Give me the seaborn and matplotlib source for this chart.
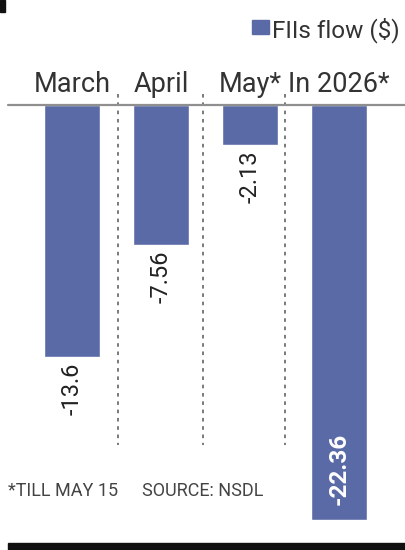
import matplotlib
matplotlib.use('Agg')
import matplotlib.pyplot as plt
import seaborn as sns
import pandas as pd

# data
periods = ['March', 'April', 'May*', 'In 2026*']
fii_flow = [-13.6, -7.56, -2.13, -22.36]
value_labels = ['-13.6', '-7.56', '-2.13', '-22.36']
separators = [0.517, 1.472, 2.393]

BAR = '#5a6aa6'
GREY = '#444444'

sns.set_theme(style='white')
plt.rcParams['font.family'] = ['Roboto', 'DejaVu Sans']

fig = plt.figure(figsize=(4.05, 5.5), dpi=100)
ax = fig.add_axes([0, 0, 1, 1])

df = pd.DataFrame({'period': periods, 'flow': fii_flow})
sns.barplot(data=df, x='period', y='flow', color=BAR, width=0.63,
            saturation=1, ax=ax)

# pixel mapping: centre of first bar at 72px, 89px spacing; zero at 105px, 18.56px per unit
ax.set_xlim(-0.809, 3.742)
ax.set_ylim(-23.976, 5.657)
ax.set_axis_off()

# zero line
ax.axhline(0, xmin=8 / 405, xmax=1, color='#8f8f8f', lw=1.6, zorder=3)

# dashed separators
for s in separators:
    ax.plot([s, s], [0.6, -18.3], color='#6f6f6f', lw=1.3,
            dashes=(2, 2.6), zorder=1)

# category labels
for i, p in enumerate(periods):
    ax.text(i, 1.08, p, ha='center', va='center', fontsize=19.5, color='#333333')

# value labels
for i, (v, lab) in enumerate(zip(fii_flow, value_labels)):
    if v > -20:
        ax.text(i, v - 0.3, lab, rotation=90, ha='center', va='top',
                fontsize=17, color='#222222')
    else:
        ax.text(i, v + 0.8, lab, rotation=90, ha='center', va='bottom',
                fontsize=17.5, color='white', fontweight='bold')

# legend
fig.patches.append(plt.Rectangle((252 / 405, 1 - 34 / 550), 17 / 405, 14 / 550,
                                 transform=fig.transFigure, color=BAR))
fig.text(272 / 405, 1 - 30 / 550, 'FIIs flow ($)', ha='left', va='center',
         fontsize=17.5, color='#333333')

# footnote
fig.text(8 / 405, 1 - 491 / 550, '*TILL MAY 15', ha='left', va='center',
         fontsize=13, color=GREY)
fig.text(142 / 405, 1 - 491 / 550, 'SOURCE: NSDL', ha='left', va='center',
         fontsize=13, color=GREY)

# bottom rule and top-left mark
fig.patches.append(plt.Rectangle((8 / 405, 0), 397 / 405, 7 / 550,
                                 transform=fig.transFigure, color='#111111'))
fig.patches.append(plt.Rectangle((0, 1 - 12 / 550), 5 / 405, 12 / 550,
                                 transform=fig.transFigure, color='#111111'))

fig.savefig('out.png', dpi=100)
